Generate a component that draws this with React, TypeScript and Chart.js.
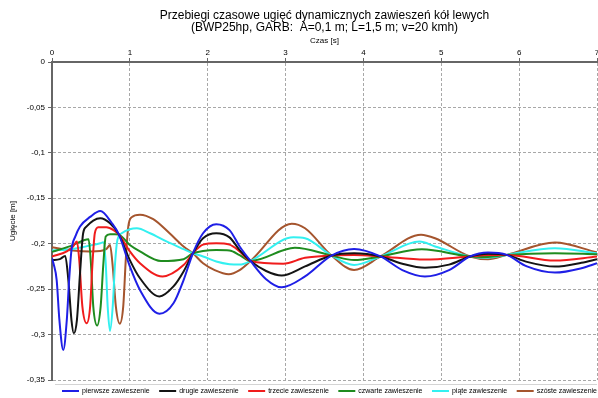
import React, { useEffect, useRef } from 'react';
import { Chart, registerables } from 'chart.js';

Chart.register(...registerables);

// ---- data ----
const seriesLabels = [
  'pierwsze zawieszenie',
  'drugie zawieszenie',
  'trzecie zawieszenie',
  'czwarte zawieszenie',
  'piąte zawieszenie',
  'szóste zawieszenie',
];

const xTicks = [0, 1, 2, 3, 4, 5, 6, 7];
const yTicks = [0, -0.05, -0.1, -0.15, -0.2, -0.25, -0.3, -0.35];

// pierwsze zawieszenie (blue)
const czas1 = [0, 0.02, 0.06, 0.095, 0.145, 0.19, 0.22, 0.25, 0.3, 0.36, 0.49, 0.62, 0.77, 0.86, 1.0, 1.13, 1.38, 1.56, 1.69, 1.81, 1.94, 2.11, 2.28, 2.41, 2.55, 2.75, 2.95, 3.25, 3.59, 3.88, 4.22, 4.5, 4.79, 5.1, 5.37, 5.6, 5.84, 6.1, 6.46, 6.8, 7];
const ugiecie1 = [-0.216, -0.222, -0.24, -0.284, -0.317, -0.284, -0.24, -0.207, -0.192, -0.181, -0.1705, -0.164, -0.1775, -0.19, -0.225, -0.251, -0.277, -0.2655, -0.24, -0.2105, -0.1885, -0.1785, -0.185, -0.203, -0.219, -0.239, -0.248, -0.236, -0.213, -0.2057, -0.214, -0.229, -0.236, -0.229, -0.214, -0.2097, -0.2123, -0.225, -0.2318, -0.227, -0.2215];

// drugie zawieszenie (black)
const czas2 = [0, 0.1, 0.17, 0.21, 0.25, 0.28, 0.32, 0.36, 0.4, 0.445, 0.53, 0.62, 0.745, 0.86, 1.0, 1.13, 1.38, 1.56, 1.69, 1.81, 1.94, 2.11, 2.28, 2.41, 2.55, 2.75, 2.95, 3.25, 3.59, 3.88, 4.22, 4.5, 4.79, 5.1, 5.37, 5.6, 5.84, 6.1, 6.46, 6.8, 7];
const ugiecie2 = [-0.218, -0.217, -0.2135, -0.24, -0.284, -0.2985, -0.284, -0.2325, -0.1885, -0.181, -0.1745, -0.172, -0.1775, -0.19, -0.218, -0.238, -0.258, -0.247, -0.2305, -0.2105, -0.194, -0.1885, -0.193, -0.207, -0.219, -0.23, -0.235, -0.225, -0.213, -0.2105, -0.214, -0.222, -0.2265, -0.223, -0.214, -0.211, -0.2123, -0.22, -0.2252, -0.221, -0.217];

// trzecie zawieszenie (red)
const czas3 = [0, 0.19, 0.27, 0.32, 0.35, 0.39, 0.445, 0.49, 0.52, 0.55, 0.595, 0.7, 0.79, 0.86, 1.0, 1.13, 1.42, 1.69, 1.81, 1.94, 2.11, 2.28, 2.41, 2.55, 2.97, 3.25, 3.59, 3.88, 4.22, 4.79, 5.37, 5.6, 5.84, 6.46, 7];
const ugiecie3 = [-0.214, -0.2085, -0.203, -0.1975, -0.218, -0.269, -0.2875, -0.269, -0.2215, -0.1885, -0.182, -0.182, -0.185, -0.19, -0.2085, -0.2215, -0.236, -0.2235, -0.2105, -0.201, -0.1995, -0.201, -0.2085, -0.219, -0.222, -0.2155, -0.213, -0.2125, -0.214, -0.2175, -0.214, -0.2125, -0.2123, -0.2186, -0.214];

// czwarte zawieszenie (green)
const czas4 = [0, 0.27, 0.4, 0.47, 0.5, 0.53, 0.58, 0.625, 0.66, 0.69, 0.745, 0.81, 0.86, 1.0, 1.13, 1.4, 1.69, 1.81, 1.94, 2.11, 2.28, 2.41, 2.55, 3.12, 3.59, 3.88, 4.22, 4.75, 5.37, 5.6, 5.84, 6.46, 7];
const ugiecie4 = [-0.209, -0.2015, -0.1965, -0.195, -0.2215, -0.269, -0.29, -0.269, -0.2215, -0.192, -0.1895, -0.1895, -0.19, -0.2015, -0.2085, -0.219, -0.217, -0.2105, -0.208, -0.207, -0.2075, -0.2125, -0.219, -0.2045, -0.213, -0.218, -0.214, -0.206, -0.214, -0.2145, -0.2123, -0.2105, -0.2116];

// piąte zawieszenie (cyan)
const czas5 = [0, 0.27, 0.49, 0.62, 0.66, 0.69, 0.715, 0.745, 0.78, 0.81, 0.84, 0.895, 1.0, 1.09, 1.26, 1.47, 1.69, 1.81, 1.94, 2.11, 2.28, 2.41, 2.55, 3.1, 3.25, 3.59, 3.88, 4.22, 4.72, 4.92, 5.37, 5.6, 5.84, 6.46, 7];
const ugiecie5 = [-0.2075, -0.2057, -0.202, -0.1995, -0.1985, -0.2215, -0.269, -0.296, -0.269, -0.2215, -0.196, -0.1885, -0.184, -0.183, -0.1885, -0.1975, -0.206, -0.2105, -0.214, -0.2195, -0.2225, -0.223, -0.219, -0.193, -0.194, -0.213, -0.2235, -0.214, -0.1977, -0.203, -0.214, -0.2155, -0.2123, -0.205, -0.2105];

// szóste zawieszenie (brown)
const czas6 = [0, 0.27, 0.49, 0.62, 0.7, 0.745, 0.78, 0.82, 0.87, 0.915, 0.95, 0.98, 1.02, 1.13, 1.3, 1.51, 1.69, 1.81, 1.94, 2.09, 2.27, 2.41, 2.55, 3.08, 3.25, 3.59, 3.88, 4.22, 4.74, 4.92, 5.37, 5.6, 5.84, 6.46, 7];
const ugiecie6 = [-0.204, -0.2075, -0.2085, -0.208, -0.2057, -0.2015, -0.225, -0.269, -0.288, -0.269, -0.214, -0.181, -0.171, -0.168, -0.173, -0.1885, -0.203, -0.2105, -0.2215, -0.229, -0.2335, -0.229, -0.219, -0.178, -0.183, -0.213, -0.229, -0.214, -0.19, -0.194, -0.214, -0.217, -0.2123, -0.1988, -0.2095];

const seriesColors = ['#1f1fe6', '#141414', '#f01c1c', '#1f8c1f', '#33f0f0', '#a5552e'];

const FONT = '"Liberation Sans", Arial, sans-serif';

function fmt(v: number): string {
  const n = parseFloat(v.toFixed(2));
  return (Object.is(n, -0) ? 0 : n).toString().replace('.', ',');
}

const legendPlugin = {
  id: 'customLegend',
  afterDraw(chart: any) {
    const ctx = chart.ctx as CanvasRenderingContext2D;
    const area = chart.chartArea;
    ctx.save();
    ctx.strokeStyle = '#d4d4d4';
    ctx.lineWidth = 1;
    ctx.beginPath();
    ctx.moveTo(area.left + 3, 384.5);
    ctx.lineTo(area.right, 384.5);
    ctx.stroke();

    ctx.font = '7px ' + FONT;
    ctx.textBaseline = 'middle';
    ctx.textAlign = 'left';
    const sample = 17;
    const gap = 3;
    const items = chart.data.datasets.map((ds: any) => ({
      text: ds.label as string,
      color: ds.borderColor as string,
      w: ctx.measureText(ds.label).width,
    }));
    const startX = area.left + 10;
    const endX = area.right;
    const total = items.reduce((s: number, it: any) => s + sample + gap + it.w, 0);
    const spacing = (endX - startX - total) / (items.length - 1);
    let x = startX;
    const y = 391;
    items.forEach((it: any) => {
      ctx.strokeStyle = it.color;
      ctx.lineWidth = 2;
      ctx.beginPath();
      ctx.moveTo(x, y);
      ctx.lineTo(x + sample, y);
      ctx.stroke();
      ctx.fillStyle = '#000';
      ctx.fillText(it.text, x + sample + gap, y);
      x += sample + gap + it.w + spacing;
    });
    ctx.restore();
  },
};

export default function App() {
  const ref = useRef<HTMLCanvasElement>(null);

  useEffect(() => {
    document.body.style.margin = '0';
    const times = [czas1, czas2, czas3, czas4, czas5, czas6];
    const values = [ugiecie1, ugiecie2, ugiecie3, ugiecie4, ugiecie5, ugiecie6];
    Chart.defaults.font.family = FONT;

    const datasets = seriesLabels.map((label, i) => ({
      label,
      data: times[i].map((t, j) => ({ x: t, y: values[i][j] })),
      borderColor: seriesColors[i],
      backgroundColor: seriesColors[i],
      borderWidth: 2,
      pointRadius: 0,
      fill: false,
      cubicInterpolationMode: 'monotone' as const,
    }));

    const chart = new Chart(ref.current as HTMLCanvasElement, {
      type: 'line',
      data: { datasets },
      plugins: [legendPlugin],
      options: {
        animation: false,
        responsive: false,
        devicePixelRatio: 1,
        layout: { padding: { top: 0, left: 0, right: 1, bottom: 18 } },
        plugins: {
          legend: { display: false },
          tooltip: { enabled: false },
          title: {
            display: true,
            fullSize: false,
            text: [
              'Przebiegi czasowe ugięć dynamicznych zawieszeń kół lewych',
              '(BWP25hp, GARB:  A=0,1 m; L=1,5 m; v=20 kmh)',
            ],
            color: '#000',
            font: { size: 12, weight: 'normal', family: FONT, lineHeight: 1.0 },
            padding: { top: 10, bottom: 2 },
          },
        },
        scales: {
          x: {
            type: 'linear',
            position: 'top',
            min: xTicks[0],
            max: xTicks[xTicks.length - 1],
            afterBuildTicks: (scale: any) => {
              scale.ticks = xTicks.map((v) => ({ value: v }));
            },
            afterFit: (scale: any) => {
              scale.height = 26;
              scale.paddingLeft = 0;
              scale.paddingRight = 0;
            },
            ticks: {
              color: '#000',
              font: { size: 8 },
              padding: 0,
              maxRotation: 0,
              callback: (v: any) => fmt(Number(v)),
            },
            title: {
              display: true,
              text: 'Czas [s]',
              color: '#000',
              font: { size: 8 },
              padding: { top: 0, bottom: 0 },
            },
            grid: {
              color: '#a8a8a8',
              lineWidth: 1,
              tickLength: 4,
              tickColor: '#666',
            },
            border: { color: '#666', width: 2, dash: [3, 2] },
          },
          y: {
            type: 'linear',
            min: yTicks[yTicks.length - 1],
            max: yTicks[0],
            afterBuildTicks: (scale: any) => {
              scale.ticks = yTicks.slice().reverse().map((v) => ({ value: v }));
            },
            afterFit: (scale: any) => {
              scale.width = 52;
              scale.paddingTop = 0;
              scale.paddingBottom = 0;
            },
            ticks: {
              color: '#000',
              font: { size: 8 },
              padding: 3,
              callback: (v: any) => fmt(Number(v)),
            },
            title: {
              display: true,
              text: 'Ugięcie [m]',
              color: '#000',
              font: { size: 8 },
              padding: { top: 8, bottom: 0 },
            },
            grid: {
              color: '#a8a8a8',
              lineWidth: 1,
              tickLength: 4,
              tickColor: '#666',
            },
            border: { color: '#666', width: 2, dash: [3, 2] },
          },
        },
      } as any,
    });
    return () => chart.destroy();
  }, []);

  return (
    <div style={{ width: 598, height: 398 }}>
      <canvas ref={ref} width={598} height={398} style={{ display: 'block' }} />
    </div>
  );
}
